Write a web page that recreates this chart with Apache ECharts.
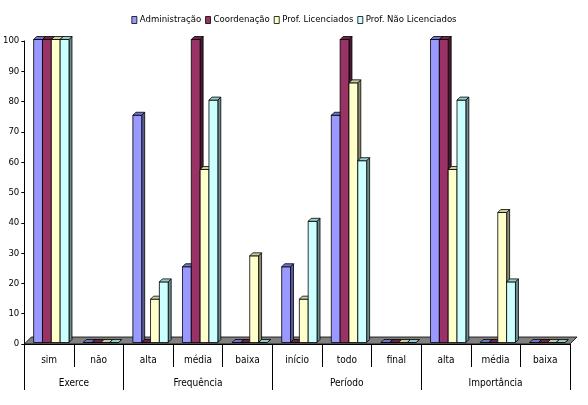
<!DOCTYPE html>
<html>
<head>
<meta charset="utf-8">
<script src="https://cdn.jsdelivr.net/npm/echarts@6/dist/echarts.min.js"></script>
<style>html,body{margin:0;padding:0;background:#fff;}#c{width:588px;height:405px;}</style>
</head>
<body>
<div id="c"></div>
<script>
const categories = ['sim','não','alta','média','baixa','início','todo','final','alta','média','baixa'];
const groups = ['Exerce','Frequência','Período','Importância'];
const groupLabelSlots = [2, 7, 13, 19];
const groupTickSlots = [0, 4, 10, 16, 22];
const seriesNames = ['Administração','Coordenação','Prof. Licenciados','Prof. Não Licenciados'];
const administracao = [100, 0, 75, 25, 0, 25, 75, 0, 100, 0, 0];
const coordenacao = [100, 0, 0, 100, 0, 0, 100, 0, 100, 0, 0];
const profLicenciados = [100, 0, 14.3, 57.1, 28.6, 14.3, 85.7, 0, 57.1, 42.9, 0];
const profNaoLicenciados = [100, 0, 20, 80, 0, 40, 60, 0, 80, 20, 0];
const yTicks = [0,10,20,30,40,50,60,70,80,90,100];

const seriesValues = [administracao, coordenacao, profLicenciados, profNaoLicenciados];
const frontColors = ['#9999FF','#993366','#FFFFCC','#CCFFFF'];
const topColors = ['#7373CC','#6E2449','#CCCCA3','#99CCCC'];
const sideColors = ['#5C5C99','#4D1A33','#8C8C70','#6B8C8C'];
const FONT = "'DejaVu Sans Condensed','Liberation Sans Narrow',sans-serif";

const chart = echarts.init(document.getElementById('c'), null, {renderer:'canvas'});

function barRenderer(s){
  return function(params, api){
    const i = api.value(0), v = api.value(1);
    const base = api.coord([i, 0]);
    const top = api.coord([i, v]);
    const band = api.size([1, 0])[0];
    const bw = band * 0.178;
    const dx = 3, dy = 3, shiftX = 2.2, lift = 1.5;
    const x0 = base[0] - 2 * bw + s * bw + shiftX;
    const yb = base[1] - lift;
    const yt = top[1] - lift;
    const st = {stroke:'#000', lineWidth:0.8};
    return {
      type:'group',
      children:[
        {type:'polygon', shape:{points:[[x0+bw,yt],[x0+bw+dx,yt-dy],[x0+bw+dx,yb-dy],[x0+bw,yb]]},
          style:Object.assign({fill:sideColors[s]}, st)},
        {type:'rect', shape:{x:x0, y:yt, width:bw, height:Math.max(0, yb-yt)},
          style:Object.assign({fill:frontColors[s]}, st)},
        {type:'polygon', shape:{points:[[x0,yt],[x0+dx,yt-dy],[x0+bw+dx,yt-dy],[x0+bw,yt]]},
          style:Object.assign({fill:topColors[s]}, st)}
      ]
    };
  };
}

const series = [{
  type:'custom',
  name:'floor',
  xAxisIndex:0, yAxisIndex:0,
  z:1,
  silent:true,
  data:[[0,0]],
  renderItem:function(params, api){
    const cs = params.coordSys;
    const yb = cs.y + cs.height;
    const d = 7;
    return {type:'polygon', shape:{points:[[cs.x,yb],[cs.x+d,yb-d],[cs.x+cs.width+d,yb-d],[cs.x+cs.width,yb]]},
      style:{fill:'#808080', stroke:'#000', lineWidth:0.8}};
  }
}];
seriesValues.forEach((vals, s) => {
  series.push({
    type:'custom',
    name:seriesNames[s],
    xAxisIndex:0, yAxisIndex:0,
    z:2,
    itemStyle:{color:frontColors[s]},
    encode:{x:0, y:1},
    data:vals.map((v, i) => [i, v]),
    renderItem:barRenderer(s)
  });
});

chart.setOption({
  animation:false,
  backgroundColor:'#fff',
  legend:{
    data:seriesNames.map((n, s) => ({name:n, icon:'rect', itemStyle:{color:frontColors[s], borderColor:'#000', borderWidth:0.8}})),
    top:10, left:'center',
    itemWidth:5, itemHeight:7, itemGap:4,
    textStyle:{fontFamily:FONT, fontSize:9.5, color:'#000', padding:[0,0,0,-2]}
  },
  grid:{left:22, right:18, top:41, bottom:61, containLabel:false},
  xAxis:[{
    type:'category',
    data:categories,
    position:'bottom',
    axisLine:{show:true, lineStyle:{color:'#000', width:1}},
    axisTick:{show:true, interval:0, length:23, lineStyle:{color:'#000', width:1}},
    axisLabel:{interval:0, margin:11, fontFamily:FONT, fontSize:10, color:'#000'},
    splitLine:{show:false}
  },{
    type:'category',
    data:Array.from({length:23}, (_, j) => {
      const k = groupLabelSlots.indexOf(j);
      return k >= 0 ? groups[k] : '';
    }),
    boundaryGap:false,
    position:'bottom',
    axisLine:{show:false},
    axisTick:{show:true, length:46, interval:(idx) => groupTickSlots.indexOf(idx) >= 0, lineStyle:{color:'#000', width:1}},
    axisLabel:{interval:(idx) => groupLabelSlots.indexOf(idx) >= 0, margin:34, fontFamily:FONT, fontSize:10, color:'#000'},
    splitLine:{show:false}
  }],
  yAxis:{
    type:'value',
    min:yTicks[0], max:yTicks[yTicks.length-1], interval:yTicks[1]-yTicks[0],
    axisLine:{show:true, lineStyle:{color:'#000', width:1}},
    axisTick:{show:true, length:3, lineStyle:{color:'#000'}},
    axisLabel:{margin:5, fontFamily:FONT, fontSize:9.5, color:'#000', padding:[3,0,0,0]},
    splitLine:{show:false}
  },
  series:series
});
</script>
</body>
</html>
